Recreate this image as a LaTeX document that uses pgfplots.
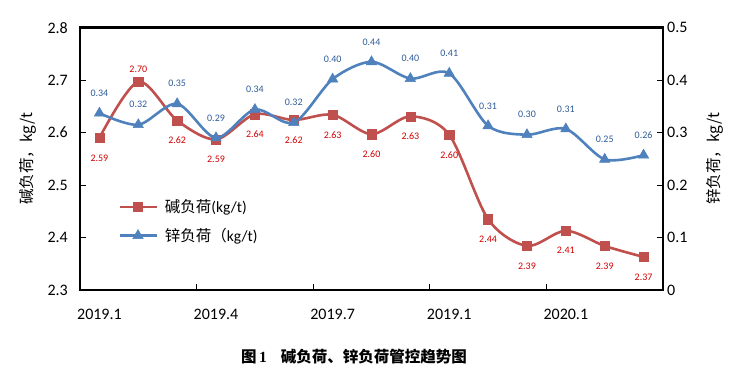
\documentclass[border=0pt]{standalone}
\usepackage{fontspec}
\setmainfont{Carlito}
\newfontfamily\cjk{Noto Sans CJK SC}
\newfontfamily\capserif{Liberation Serif}
\usepackage{pgfplots}
\usepackage{pgfplotstable}
\pgfplotsset{compat=1.18}
\definecolor{cred}{HTML}{C0504D}
\definecolor{cblue}{HTML}{4F81BD}
\definecolor{lred}{HTML}{D00000}
\definecolor{lblue}{HTML}{2E5B99}

\pgfplotstableread{
x y lab dy
0 2.590 2.59 -20
1 2.697 2.70 12
2 2.623 2.62 -20
3 2.587 2.59 -20
4 2.635 2.64 -20
5 2.624 2.62 -20
6 2.634 2.63 -20
7 2.597 2.60 -20
8 2.631 2.63 -20
9 2.596 2.60 -20
10 2.435 2.44 -20
11 2.384 2.39 -20
12 2.413 2.41 -20
13 2.384 2.39 -20
14 2.363 2.37 -20
}\alkali

\pgfplotstableread{
x y lab
0 0.337 0.34
1 0.315 0.32
2 0.355 0.35
3 0.290 0.29
4 0.344 0.34
5 0.319 0.32
6 0.402 0.40
7 0.435 0.44
8 0.403 0.40
9 0.413 0.41
10 0.313 0.31
11 0.296 0.30
12 0.307 0.31
13 0.249 0.25
14 0.257 0.26
}\zinc

\pgfplotsset{
  base/.style={
    scale only axis, width=583pt, height=262.3pt,
    at={(0pt,0pt)}, anchor=south west,
    xmin=-0.5, xmax=14.5,
    clip=false,
    tick align=inside,
    major tick length=6pt, minor tick length=6pt,
    every tick/.style={black, line width=0.9pt},
    axis line style={line width=2.4pt},
    tick label style={font=\fontsize{16}{19}\selectfont},
    /pgf/number format/assume math mode=true,
  },
  redline/.style={color=cred, line width=2.6pt, smooth, mark=square*, mark size=4.6pt, mark options={solid, fill=cred, line width=0.5pt}},
  blueline/.style={color=cblue, line width=2.6pt, smooth, mark=triangle*, mark size=6pt, mark options={solid, fill=cblue, line width=0.5pt}},
}

\begin{document}
\begin{tikzpicture}
\useasboundingbox (-80pt,-84pt) rectangle (655pt,290pt);
\begin{axis}[base,
  ymin=2.3, ymax=2.8,
  ytick={2.3,2.4,2.5,2.6,2.7,2.8},
  yticklabels={2.3,2.4,2.5,2.6,2.7,2.8},
  ytick pos=left,
  xtick pos=bottom,
  xtick={0,3,6,9,12},
  xticklabels={2019.1,2019.4,2019.7,2019.1,2020.1},
  major x tick style={draw=none},
  minor xtick={2.5,5.5,8.5,11.5},
  xticklabel style={anchor=base, inner sep=0pt, yshift=-30pt},
  yticklabel style={anchor=east, inner sep=0pt, xshift=-12pt},
  every axis y label/.style={at={(rel axis cs:0,0.5)}, xshift=-52pt, rotate=90, anchor=center, font=\fontsize{15.5}{18}\selectfont},
  ylabel={\cjk 碱负荷，kg/t},
  legend style={at={(rel axis cs:0.0652,0.3527)}, anchor=north west, draw=none, fill=none, inner sep=0pt,
    font=\fontsize{15.5}{18}\selectfont, row sep=10pt,
    /tikz/every odd column/.append style={column sep=5pt}},
  legend cell align=left,
  legend image code/.code={\draw[mark repeat=2, mark phase=2, #1] plot coordinates {(0pt,0pt) (18.5pt,0pt) (37pt,0pt)};},
]
\addlegendimage{redline}
\addlegendentry{{\cjk 碱负荷}(kg/t)}
\addlegendimage{blueline}
\addlegendentry{{\cjk 锌负荷（}kg/t)}
\addplot[redline, forget plot,
  point meta=explicit symbolic,
  visualization depends on={\thisrow{dy}\as\dy},
  nodes near coords,
  every node near coord/.append style={anchor=center, yshift=\dy pt, font=\fontsize{10}{12}\selectfont, text=lred, inner sep=0pt}]
  table[x=x, y=y, meta=lab] {\alkali};
\end{axis}
\begin{axis}[base,
  ymin=0, ymax=0.5,
  axis x line=none,
  axis y line*=right,
  ytick={0,0.1,0.2,0.3,0.4,0.5},
  yticklabels={0,0.1,0.2,0.3,0.4,0.5},
  yticklabel style={anchor=west, inner sep=0pt, xshift=4pt},
  every axis y label/.style={at={(rel axis cs:1,0.5)}, xshift=52pt, rotate=90, anchor=center, font=\fontsize{15.5}{18}\selectfont},
  ylabel={\cjk 锌负荷，kg/t},
]
\addplot[blueline,
  point meta=explicit symbolic,
  nodes near coords,
  every node near coord/.append style={anchor=center, yshift=20pt, font=\fontsize{10}{12}\selectfont, text=lblue, inner sep=0pt}]
  table[x=x, y=y, meta=lab] {\zinc};
\end{axis}
\node[font=\fontsize{15.5}{18}\selectfont\bfseries] at (274pt,-67pt) {\cjk 图\,{\capserif 1}\hspace{14pt}碱负荷、锌负荷管控趋势图};
\end{tikzpicture}
\end{document}
